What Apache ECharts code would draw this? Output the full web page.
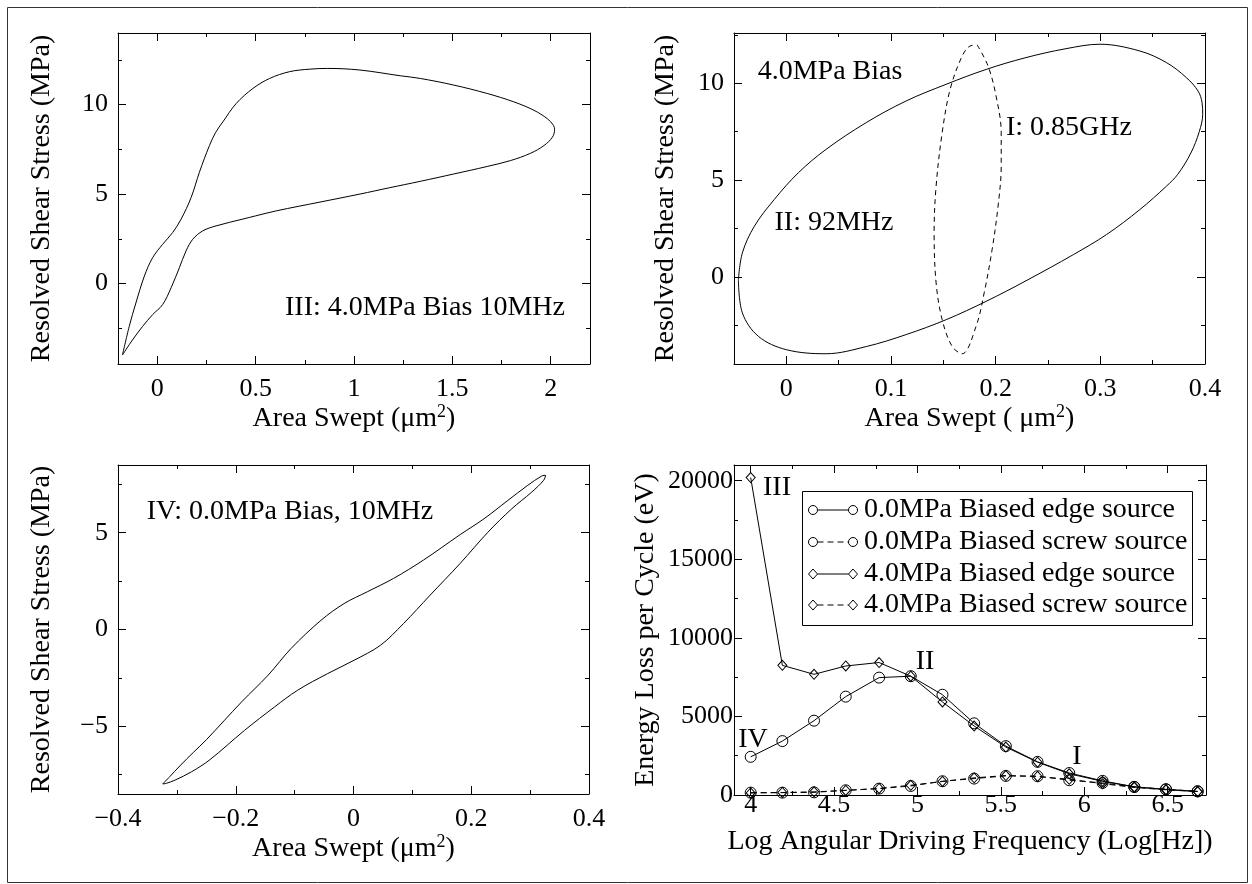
<!DOCTYPE html>
<html>
<head>
<meta charset="utf-8">
<script src="https://cdn.jsdelivr.net/npm/echarts@6/dist/echarts.min.js"></script>
<style>
html,body{margin:0;padding:0;background:#fff;}
#chart{width:1252px;height:884px;}
</style>
</head>
<body>
<div id="chart"></div>
<script>
// ---------- Panel 1 (III: 4.0MPa Bias 10MHz) loop ----------
const p1X = [-0.177,-0.143,-0.109,-0.066,-0.024,0.027,0.078,0.121,0.172,0.214,0.265,0.297,0.333,0.401,0.486,0.571,0.673,0.776,0.867,1.03,1.235,1.337,1.507,1.677,1.813,1.915,1.983,2.014,2.020,
             2.009,1.966,1.898,1.796,1.677,1.507,1.337,1.18,1.031,0.827,0.605,0.5,0.435,0.299,0.231,0.180,0.146,0.112,0.07,0.027,-0.024,-0.075,-0.126,-0.177];
const p1Y = [-3.99,-2.4,-1.09,0.41,1.44,2.19,2.85,3.6,4.81,6.22,7.71,8.45,9.03,10.06,10.9,11.46,11.84,11.98,12.02,11.93,11.61,11.46,11.09,10.62,10.15,9.68,9.21,8.84,8.6,
             8.18,7.71,7.28,6.87,6.54,6.12,5.71,5.35,5.0,4.55,4.06,3.78,3.6,3.22,2.94,2.47,1.82,0.88,-0.24,-1.18,-1.74,-2.4,-3.15,-3.99];

// ---------- Panel 2 ellipses ----------
const p2SolidX = [-0.0458,-0.042,-0.0305,-0.0115,0.0115,0.038,0.0763,0.1145,0.1527,0.191,0.229,0.2672,0.2996,0.3378,0.3632,0.3823,0.3934,0.3972,0.3978,0.3945,0.3865,0.374,0.3632,0.3378,0.306,0.2742,0.229,0.191,0.1527,0.1145,0.0763,0.038,0.0,-0.0267,-0.042,-0.0458];
const p2SolidY = [-0.14,1.24,2.62,4.0,5.38,6.59,7.97,9.09,9.95,10.72,11.33,11.79,12.02,11.67,11.07,10.29,9.6,9.0,8.4,7.5,6.4,5.3,4.69,3.48,2.19,1.15,-0.2,-1.26,-2.21,-2.98,-3.6,-3.97,-3.76,-3.07,-1.86,-0.14];
const p2DashX = [0.1824,0.1927,0.2004,0.2053,0.2053,0.2023,0.1966,0.189,0.1813,0.168,0.1584,0.1489,0.1431,0.1412,0.1431,0.1489,0.1565,0.168,0.1756,0.1824];
const p2DashY = [11.98,10.9,9.34,7.45,5.72,3.66,1.41,-0.83,-2.55,-3.97,-3.59,-2.21,-0.31,2.28,4.69,7.45,9.69,11.41,11.93,11.98];

// ---------- Panel 3 (IV: 0.0MPa Bias, 10MHz) loop ----------
const p3X = [-0.324,-0.312,-0.295,-0.272,-0.25,-0.19,-0.145,-0.106,-0.055,-0.016,0.0235,0.068,0.119,0.181,0.2216,0.2622,0.296,0.3196,0.3264,
             0.323,0.3027,0.2689,0.2284,0.181,0.130,0.085,0.046,0.001,-0.044,-0.095,-0.134,-0.185,-0.244,-0.275,-0.303,-0.318,-0.324];
const p3Y = [-7.98,-7.6,-7.05,-6.35,-5.7,-3.74,-2.36,-0.98,0.48,1.34,1.95,2.64,3.59,4.9,5.72,6.67,7.45,7.93,7.97,
             7.71,7.1,6.24,5.03,3.41,1.77,0.31,-0.81,-1.59,-2.28,-3.14,-4.0,-5.21,-6.73,-7.35,-7.78,-7.95,-7.98];

// ---------- Panel 4 energy loss ----------
const logFreq = [4.00,4.19,4.38,4.57,4.77,4.96,5.15,5.34,5.53,5.72,5.91,6.11,6.30,6.49,6.68];
const edge0  = [2430,3430,4730,6260,7470,7560,6380,4560,3110,2110,1400,900,520,360,230];
const screw0 = [150,150,170,300,405,575,875,1045,1215,1195,940,770,510,365,235];
const edge4  = [20200,8250,7680,8210,8430,7560,5920,4390,3050,2090,1350,870,520,340,220];
const screw4 = [130,160,200,290,420,620,860,1090,1240,1180,1000,720,480,330,220];
const legendLabels = ['0.0MPa Biased edge source','0.0MPa Biased screw source','4.0MPa Biased edge source','4.0MPa Biased screw source'];

// ---------- Tick values ----------
const p1XMajor = [0,0.5,1,1.5,2], p1XMinor = [0.25,0.75,1.25,1.75];
const p1YMajor = [0,5,10], p1YMinor = [-2.5,2.5,7.5,12.5];
const p2XMajor = [0,0.1,0.2,0.3,0.4], p2XMinor = [0.05,0.15,0.25,0.35];
const p2YMajor = [0,5,10], p2YMinor = [-2.5,2.5,7.5,12.5];
const p3XMajor = [-0.4,-0.2,0,0.2,0.4], p3XMinor = [-0.3,-0.1,0.1,0.3];
const p3YMajor = [-5,0,5], p3YMinor = [-7.5,-2.5,2.5,7.5];
const p4XMajor = [4,4.5,5,5.5,6,6.5], p4XMinor = [4.25,4.75,5.25,5.75,6.25];
const p4YMajor = [0,5000,10000,15000,20000], p4YMinor = [2500,7500,12500,17500];

const FONT = 'Liberation Serif';
const TICK_FS = 26, NAME_FS = 28, ANN_FS = 28;
const zip = (xs, ys) => xs.map((x, i) => [x, ys[i]]);
const fmt = v => String(v).replace('-', '\u2212');

const xAxes = [], yAxes = [];
function addAxisSet(list, dim, grid, c) {
  const main = list.length;
  const positions = dim === 'x' ? ['bottom', 'top'] : ['left', 'right'];
  positions.forEach((pos, pi) => {
    [c.major, c.minor].forEach((vals, vi) => {
      const isMain = pi === 0 && vi === 0;
      list.push({
        type: 'value', gridIndex: grid, position: pos, min: c.min, max: c.max,
        axisLine: { show: vi === 0, onZero: false, lineStyle: { color: '#000', width: 1 } },
        axisTick: { show: true, inside: true, length: vi === 0 ? 8 : 4, customValues: vals, lineStyle: { color: '#000', width: 1 } },
        axisLabel: isMain ? { show: true, customValues: c.major, margin: c.margin, fontSize: TICK_FS, fontFamily: FONT, color: '#000', formatter: fmt } : { show: false },
        splitLine: { show: false },
        name: isMain ? c.name : '',
        nameLocation: 'middle', nameGap: c.nameGap || 0,
        nameTextStyle: { fontSize: NAME_FS, fontFamily: FONT, color: '#000',
          rich: { sup: { fontSize: 18, fontFamily: FONT, color: '#000', padding: [0, 0, 14, 0] } } },
        silent: true
      });
    });
  });
  return main;
}

const grids = [
  { left: 118, top: 33, width: 472, height: 331 },
  { left: 734, top: 33, width: 471, height: 331 },
  { left: 118, top: 465, width: 471, height: 329 },
  { left: 734, top: 465, width: 472, height: 330 }
];

const areaName = 'Area Swept (\u03bcm{sup|2})';
const areaName2 = 'Area Swept ( \u03bcm{sup|2})';
const x1 = addAxisSet(xAxes, 'x', 0, { min: -0.2, max: 2.2, major: p1XMajor, minor: p1XMinor, margin: 12, name: areaName, nameGap: 33 });
const y1 = addAxisSet(yAxes, 'y', 0, { min: -4.5, max: 14, major: p1YMajor, minor: p1YMinor, margin: 10, name: 'Resolved Shear Stress (MPa)', nameGap: 62 });
const x2 = addAxisSet(xAxes, 'x', 1, { min: -0.05, max: 0.4, major: p2XMajor, minor: p2XMinor, margin: 12, name: areaName2, nameGap: 35 });
const y2 = addAxisSet(yAxes, 'y', 1, { min: -4.5, max: 12.6, major: p2YMajor, minor: p2YMinor, margin: 10, name: 'Resolved Shear Stress (MPa)', nameGap: 54 });
const x3 = addAxisSet(xAxes, 'x', 2, { min: -0.4, max: 0.4, major: p3XMajor, minor: p3XMinor, margin: 12, name: areaName, nameGap: 34 });
const y3 = addAxisSet(yAxes, 'y', 2, { min: -8.5, max: 8.5, major: p3YMajor, minor: p3YMinor, margin: 10, name: 'Resolved Shear Stress (MPa)', nameGap: 62 });
const x4 = addAxisSet(xAxes, 'x', 3, { min: 3.9, max: 6.73, major: p4XMajor, minor: p4XMinor, margin: -3, name: 'Log Angular Driving Frequency (Log[Hz])', nameGap: 33 });
const y4 = addAxisSet(yAxes, 'y', 3, { min: 0, max: 21000, major: p4YMajor, minor: p4YMinor, margin: 1, name: 'Energy Loss per Cycle (eV)', nameGap: 74 });

const lineBase = { type: 'line', showSymbol: false, symbol: 'none', smooth: 0.35, silent: true, animation: false };
const markBase = { type: 'line', silent: true, animation: false, showSymbol: true,
  itemStyle: { color: 'rgba(0,0,0,0)', borderColor: '#000', borderWidth: 1 } };

const series = [
  Object.assign({}, lineBase, { xAxisIndex: x1, yAxisIndex: y1, data: zip(p1X, p1Y), lineStyle: { color: '#000', width: 1 } }),
  Object.assign({}, lineBase, { xAxisIndex: x2, yAxisIndex: y2, data: zip(p2SolidX, p2SolidY), lineStyle: { color: '#000', width: 1 } }),
  Object.assign({}, lineBase, { xAxisIndex: x2, yAxisIndex: y2, data: zip(p2DashX, p2DashY), lineStyle: { color: '#000', width: 1, type: [5, 4] } }),
  Object.assign({}, lineBase, { xAxisIndex: x3, yAxisIndex: y3, data: zip(p3X, p3Y), lineStyle: { color: '#000', width: 1 } }),
  Object.assign({}, markBase, { name: legendLabels[0], xAxisIndex: x4, yAxisIndex: y4, data: zip(logFreq, edge0), symbol: 'circle', symbolSize: 11, lineStyle: { color: '#000', width: 1 } }),
  Object.assign({}, markBase, { name: legendLabels[1], xAxisIndex: x4, yAxisIndex: y4, data: zip(logFreq, screw0), symbol: 'circle', symbolSize: 11, lineStyle: { color: '#000', width: 1, type: [6, 4] } }),
  Object.assign({}, markBase, { name: legendLabels[2], xAxisIndex: x4, yAxisIndex: y4, data: zip(logFreq, edge4), symbol: 'diamond', symbolSize: [9, 10], lineStyle: { color: '#000', width: 1 } }),
  Object.assign({}, markBase, { name: legendLabels[3], xAxisIndex: x4, yAxisIndex: y4, data: zip(logFreq, screw4), symbol: 'diamond', symbolSize: [9, 10], lineStyle: { color: '#000', width: 1, type: [6, 4] } })
];

function txt(text, x, y, size) {
  return { type: 'text', x: x, y: y, silent: true, z: 10,
    style: { text: text, fill: '#000', fontSize: size || ANN_FS, fontFamily: FONT, textAlign: 'center', textVerticalAlign: 'middle' } };
}

// legend drawn as graphic
const legendRows = [
  { sym: 'circle', dash: false }, { sym: 'circle', dash: true },
  { sym: 'diamond', dash: false }, { sym: 'diamond', dash: true }
];
const legendEls = [{ type: 'rect', shape: { x: 802.5, y: 491.5, width: 390, height: 134 }, style: { fill: '#fff', stroke: '#000', lineWidth: 1 }, z: 20, silent: true }];
const rowY = [510, 542, 574, 605];
const mx1 = 813, mx2 = 853;
function marker(sym, cx, cy) {
  if (sym === 'circle') return { type: 'circle', shape: { cx: cx, cy: cy, r: 4.5 }, style: { fill: 'none', stroke: '#000', lineWidth: 1 }, z: 21, silent: true };
  return { type: 'polygon', shape: { points: [[cx, cy - 5], [cx + 4.5, cy], [cx, cy + 5], [cx - 4.5, cy]] }, style: { fill: 'none', stroke: '#000', lineWidth: 1 }, z: 21, silent: true };
}
legendRows.forEach((r, i) => {
  const cy = rowY[i];
  legendEls.push({ type: 'line', shape: { x1: mx1 + 4.5, y1: cy, x2: mx2 - 4.5, y2: cy }, style: { stroke: '#000', lineWidth: 1, lineDash: r.dash ? [6, 4] : null }, z: 21, silent: true });
  legendEls.push(marker(r.sym, mx1, cy));
  legendEls.push(marker(r.sym, mx2, cy));
  legendEls.push({ type: 'text', x: 864, y: cy, z: 21, silent: true,
    style: { text: legendLabels[i], fill: '#000', fontSize: ANN_FS, fontFamily: FONT, textAlign: 'left', textVerticalAlign: 'middle' } });
});

const graphic = [
  { type: 'rect', shape: { x: 7.5, y: 7.5, width: 1240, height: 875 }, style: { fill: 'none', stroke: '#333', lineWidth: 1 }, z: -10, silent: true },
  txt('III: 4.0MPa Bias 10MHz', 425, 308),
  txt('4.0MPa Bias', 830, 72),
  txt('I: 0.85GHz', 1069, 128),
  txt('II: 92MHz', 834, 223),
  txt('IV: 0.0MPa Bias, 10MHz', 290, 512),
  txt('III', 777, 488),
  txt('IV', 753, 740),
  txt('II', 925, 662),
  txt('I', 1077, 757)
].concat(legendEls);

const chart = echarts.init(document.getElementById('chart'), null, { renderer: 'canvas' });
chart.setOption({
  backgroundColor: '#fff',
  animation: false,
  textStyle: { fontFamily: FONT },
  grid: grids,
  xAxis: xAxes,
  yAxis: yAxes,
  series: series,
  graphic: graphic
});
</script>
</body>
</html>
